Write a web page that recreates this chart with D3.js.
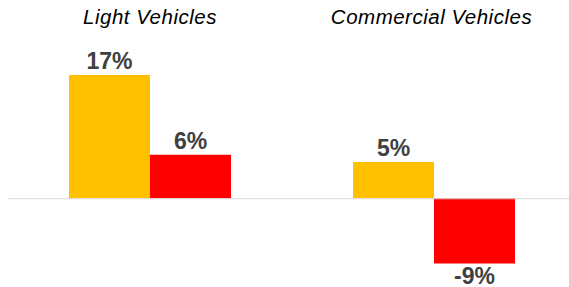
<!DOCTYPE html>
<html><head><meta charset="utf-8">
<script src="https://cdn.jsdelivr.net/npm/d3@7"></script>
<style>html,body{margin:0;padding:0;background:#fff;}svg{display:block;}</style>
</head><body>
<script>
const categories = ["Light Vehicles", "Commercial Vehicles"];
const seriesNames = ["Series A", "Series B"];
const seriesA = [17, 5];
const seriesB = [6, -9];
const colors = ["#FFC000", "#FF0000"];

const W = 569, H = 287;
const svg = d3.select("body").append("svg").attr("width", W).attr("height", H);

const x0 = d3.scaleBand().domain(categories).range([8, 576]).padding(0);
const x1 = d3.scaleBand().domain(seriesNames)
  .range([x0.bandwidth()/2 - 81, x0.bandwidth()/2 + 81]).padding(0);
const y = d3.scaleLinear().domain([-9, 17]).range([263.5, 75]);

const data = categories.map((c, i) => ({cat: c, vals: [seriesA[i], seriesB[i]]}));

const g = svg.selectAll("g.grp").data(data).join("g")
  .attr("transform", d => `translate(${x0(d.cat)},0)`);

g.selectAll("rect").data(d => d.vals.map((v, j) => ({v, s: seriesNames[j], j})))
  .join("rect")
  .attr("x", d => x1(d.s))
  .attr("width", x1.bandwidth())
  .attr("y", d => y(Math.max(0, d.v)))
  .attr("height", d => Math.abs(y(d.v) - y(0)))
  .attr("fill", d => colors[d.j]);

g.selectAll("text.lbl").data(d => d.vals.map((v, j) => ({v, s: seriesNames[j], j})))
  .join("text").attr("class", "lbl")
  .attr("x", d => x1(d.s) + x1.bandwidth()/2)
  .attr("y", d => d.v >= 0 ? y(d.v) - 6 : y(d.v) + 20.5)
  .attr("text-anchor", "middle")
  .attr("font-family", "Liberation Sans, Arial, sans-serif")
  .attr("font-weight", "bold")
  .attr("font-size", 23)
  .attr("fill", "#404040")
  .text(d => d.v + "%");

g.append("text")
  .attr("x", (d, i) => x0.bandwidth()/2 - (i === 0 ? 0 : 2.5))
  .attr("y", 24)
  .attr("text-anchor", "middle")
  .attr("font-family", "Liberation Sans, Arial, sans-serif")
  .attr("font-style", "italic")
  .attr("font-size", 20.5)
  .attr("letter-spacing", 0.5)
  .attr("fill", "#000")
  .text(d => d.cat);

svg.append("line")
  .attr("x1", 8).attr("x2", W)
  .attr("y1", y(0) + 0.5).attr("y2", y(0) + 0.5)
  .attr("stroke", "#d9d9d9").attr("stroke-width", 1.2);
</script>
</body></html>
